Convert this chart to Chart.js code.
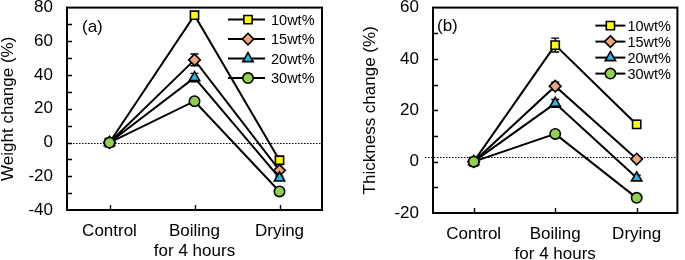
<!DOCTYPE html>
<html>
<head>
<meta charset="utf-8">
<script src="https://cdn.jsdelivr.net/npm/chart.js@4.4.0/dist/chart.umd.min.js"></script>
<style>
  body { margin: 0; background: #fff; width: 685px; height: 260px; overflow: hidden; position: relative; }
  #wa { position: absolute; left: 0; top: 0; width: 340px; height: 260px; }
  #wb { position: absolute; left: 340px; top: 0; width: 345px; height: 260px; }
</style>
</head>
<body>
<div id="wa"><canvas id="chartA" width="340" height="260"></canvas></div>
<div id="wb"><canvas id="chartB" width="345" height="260"></canvas></div>
<script>
// categorias e series
const etapas = ['Control', ['Boiling', 'for 4 hours'], 'Drying'];
const series = ['10wt%', '15wt%', '20wt%', '30wt%'];

// (a) variacao de peso (%)
const peso10 = [0, 75.5, -10.5];
const peso15 = [0, 49, -16.5];
const peso20 = [0, 38.5, -21];
const peso30 = [0, 24.5, -29];
const erroPeso10 = [0, 2, 1];
const erroPeso15 = [0, 3.5, 1];
const erroPeso20 = [0, 2.5, 1];
const erroPeso30 = [0, 1.5, 1];

// (b) variacao de espessura (%)
const esp10 = [0, 45.4, 14.5];
const esp15 = [0, 29.4, 1];
const esp20 = [0, 22.7, -6.3];
const esp30 = [0, 10.8, -14.1];
const erroEsp10 = [0, 2.7, 1.5];
const erroEsp15 = [0, 1.5, 1];
const erroEsp20 = [0, 1.5, 1];
const erroEsp30 = [0, 1, 1];

// ticks do eixo y
const ticksPeso = [-40, -20, 0, 20, 40, 60, 80];
const ticksEsp = [-20, 0, 20, 40, 60];

const estilos = ['rect', 'rectRot', 'triangle', 'circle'];
const cores = ['#ffff00', '#f2a57a', '#2eb3e8', '#92d050'];
const raios = [5.8, 5.8, 6, 5.2];
const fonte = '"Liberation Sans", Arial, sans-serif';

// desenha um marcador igual ao do Chart.js
function marca(ctx, estilo, x, y, r, cor) {
    ctx.beginPath();
    if (estilo === 'rect') {
        const s = r * Math.SQRT1_2;
        ctx.rect(x - s, y - s, 2 * s, 2 * s);
    } else if (estilo === 'rectRot') {
        ctx.moveTo(x, y - r); ctx.lineTo(x + r, y); ctx.lineTo(x, y + r); ctx.lineTo(x - r, y);
        ctx.closePath();
    } else if (estilo === 'triangle') {
        let a = 0;
        ctx.moveTo(x + Math.sin(a) * r, y - Math.cos(a) * r);
        a += 2 * Math.PI / 3;
        ctx.lineTo(x + Math.sin(a) * r, y - Math.cos(a) * r);
        a += 2 * Math.PI / 3;
        ctx.lineTo(x + Math.sin(a) * r, y - Math.cos(a) * r);
        ctx.closePath();
    } else {
        ctx.arc(x, y, r, 0, 2 * Math.PI);
    }
    ctx.fillStyle = cor;
    ctx.fill();
    ctx.lineWidth = 1.6;
    ctx.strokeStyle = '#000';
    ctx.stroke();
}

// plugin: moldura, ticks para dentro, linha pontilhada, barras de erro, legenda, rotulo
function enfeites(cfg) {
    return {
        id: 'enfeites' + cfg.rotulo,
        beforeDatasetsDraw(chart) {
            const ctx = chart.ctx, a = chart.chartArea, y = chart.scales.y, x = chart.scales.x;
            ctx.save();
            // linha pontilhada
            ctx.strokeStyle = '#000';
            ctx.lineWidth = 1.2;
            ctx.setLineDash([1.5, 1.5]);
            ctx.beginPath();
            const yz = Math.round(y.getPixelForValue(cfg.zero)) + 0.5;
            ctx.moveTo(a.left - cfg.zeroExtra, yz);
            ctx.lineTo(a.right, yz);
            ctx.stroke();
            ctx.setLineDash([]);
            // barras de erro
            ctx.lineWidth = 1.4;
            cfg.erros.forEach((err, i) => {
                const vals = chart.data.datasets[i].data;
                vals.forEach((v, j) => {
                    if (!err[j]) return;
                    const px = x.getPixelForValue(j);
                    const y1 = y.getPixelForValue(v + err[j]);
                    const y2 = y.getPixelForValue(v - err[j]);
                    ctx.beginPath();
                    ctx.moveTo(px, y1); ctx.lineTo(px, y2);
                    ctx.moveTo(px - 4, y1); ctx.lineTo(px + 4, y1);
                    ctx.moveTo(px - 4, y2); ctx.lineTo(px + 4, y2);
                    ctx.stroke();
                });
            });
            ctx.restore();
        },
        afterDraw(chart) {
            const ctx = chart.ctx, a = chart.chartArea, y = chart.scales.y, x = chart.scales.x;
            ctx.save();
            ctx.strokeStyle = '#000';
            ctx.lineWidth = 2;
            ctx.strokeRect(a.left, a.top, a.right - a.left, a.bottom - a.top);
            ctx.beginPath();
            for (let v = y.min + 10; v < y.max; v += 10) {
                const py = Math.round(y.getPixelForValue(v)) + 0.5;
                ctx.moveTo(a.left, py); ctx.lineTo(a.left + 5, py);
            }
            for (let j = 0; j < etapas.length; j++) {
                const px = Math.round(x.getPixelForValue(j)) + 0.5;
                ctx.moveTo(px, a.bottom); ctx.lineTo(px, a.bottom - 5);
            }
            ctx.lineWidth = 1.4;
            ctx.stroke();

            // legenda
            ctx.font = '14.5px ' + fonte;
            ctx.textBaseline = 'middle';
            ctx.textAlign = 'left';
            series.forEach((s, i) => {
                const ly = a.top + cfg.leg.y0 + i * cfg.leg.dy;
                ctx.beginPath();
                ctx.lineWidth = 2;
                ctx.strokeStyle = '#000';
                ctx.moveTo(a.right - cfg.leg.x0, ly);
                ctx.lineTo(a.right - cfg.leg.x1, ly);
                ctx.stroke();
                marca(ctx, estilos[i], a.right - cfg.leg.xm, ly, raios[i], cores[i]);
                ctx.fillStyle = '#000';
                ctx.fillText(s, a.right - cfg.leg.xt, ly + 1);
            });

            // rotulo do painel
            ctx.font = '17px ' + fonte;
            ctx.fillText(cfg.rotulo, a.left + cfg.rx, a.top + cfg.ry);
            ctx.restore();
        }
    };
}

function monta(id, valores, erros, ticks, titulo, lay, cfg) {
    const datasets = valores.map((d, i) => ({
        label: series[i],
        data: d,
        borderColor: '#000',
        borderWidth: 2,
        pointStyle: estilos[i],
        pointRadius: raios[i],
        pointBackgroundColor: cores[i],
        pointBorderColor: '#000',
        pointBorderWidth: 1.6,
        tension: 0,
        clip: false,
        // a serie 30wt% fica por cima
        order: valores.length - 1 - i
    }));
    cfg.erros = erros;
    return new Chart(document.getElementById(id), {
        type: 'line',
        data: { labels: etapas, datasets: datasets },
        options: {
            responsive: false,
            animation: false,
            devicePixelRatio: 1,
            layout: { padding: lay.padding },
            plugins: { legend: { display: false }, tooltip: { enabled: false } },
            scales: {
                x: {
                    type: 'category',
                    offset: true,
                    grid: { display: false, drawTicks: false },
                    border: { display: false },
                    ticks: { color: '#000', font: { family: fonte, size: 17 }, padding: 11, maxRotation: 0, autoSkip: false },
                    afterFit(s) { s.height = lay.xh; s.paddingLeft = 0; s.paddingRight = 0; }
                },
                y: {
                    min: ticks[0],
                    max: ticks[ticks.length - 1],
                    grid: { display: false, drawTicks: false },
                    border: { display: false },
                    ticks: { stepSize: 20, color: '#000', font: { family: fonte, size: 17 }, padding: 14 },
                    title: { display: true, text: titulo, color: '#000', font: { family: fonte, size: 17, lineHeight: 1 }, padding: 0 },
                    afterFit(s) { s.width = lay.yw; s.paddingTop = 0; s.paddingBottom = 0; }
                }
            }
        },
        plugins: [enfeites(cfg)]
    });
}

monta('chartA',
    [peso10, peso15, peso20, peso30],
    [erroPeso10, erroPeso15, erroPeso20, erroPeso30],
    ticksPeso, 'Weight change (%)',
    { padding: { left: 0, top: 6, right: 18, bottom: 0 }, yw: 67, xh: 50 },
    { rotulo: '(a)', rx: 15, ry: 20, zero: 0, zeroExtra: 0,
      leg: { y0: 12, dy: 19.5, x0: 94, x1: 57, xm: 74, xt: 51 } });

monta('chartB',
    [esp10, esp15, esp20, esp30],
    [erroEsp10, erroEsp15, erroEsp20, erroEsp30],
    ticksEsp, 'Thickness change (%)',
    { padding: { left: 22, top: 6, right: 1, bottom: 0 }, yw: 71, xh: 47 },
    { rotulo: '(b)', rx: 4, ry: 19, zero: 1.7, zeroExtra: 8,
      leg: { y0: 18, dy: 16, x0: 82, x1: 52, xm: 67, xt: 50 } });
</script>
</body>
</html>
